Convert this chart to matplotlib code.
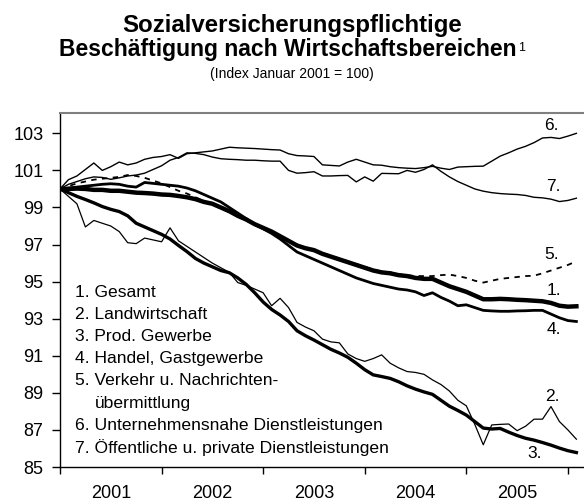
"""Sozialversicherungspflichtige Beschaeftigung nach Wirtschaftsbereichen.

Index Januar 2001 = 100, monthly values Jan 2001 .. Feb 2006.
"""
import matplotlib

matplotlib.use("Agg")
import matplotlib.pyplot as plt
import numpy as np

plt.rcParams["font.family"] = ["Liberation Sans", "DejaVu Sans"]

years = ["2001", "2002", "2003", "2004", "2005"]

gesamt = [
    100.0, 100.0, 100.02, 100.0, 99.95, 99.95, 99.9, 99.9, 99.85, 99.8,
    99.78, 99.75, 99.7, 99.68, 99.62, 99.55, 99.45, 99.3, 99.2, 99.0,
    98.8, 98.55, 98.35, 98.1, 97.9, 97.7, 97.45, 97.2, 96.95, 96.8,
    96.7, 96.5, 96.35, 96.2, 96.05, 95.9, 95.75, 95.6, 95.5, 95.45,
    95.35, 95.3, 95.2, 95.15, 95.15, 94.95, 94.75, 94.6, 94.45, 94.25,
    94.05, 94.05, 94.07, 94.05, 94.02, 94.0, 93.97, 93.94, 93.85, 93.7,
    93.65, 93.67,
]
landwirtschaft = [
    100.0, 99.6, 99.2, 97.95, 98.3, 98.15, 98.0, 97.7, 97.1, 97.05,
    97.35, 97.25, 97.15, 97.9, 97.2, 96.9, 96.6, 96.3, 96.0, 95.75,
    95.5, 94.95, 94.8, 94.6, 94.4, 93.7, 94.1, 93.6, 92.8, 92.55,
    92.35, 91.9, 91.75, 91.7, 91.1, 90.85, 90.7, 90.85, 91.05, 90.6,
    90.35, 90.15, 90.1, 90.0, 89.7, 89.45, 89.1, 88.6, 88.3, 87.3,
    86.2, 87.27, 87.3, 87.32, 86.96, 87.2, 87.58, 87.58, 88.26, 87.45,
    87.0, 86.5,
]
prod_gewerbe = [
    100.0, 99.8, 99.6, 99.43, 99.25, 99.05, 98.9, 98.78, 98.55, 98.15,
    97.95, 97.75, 97.55, 97.3, 96.95, 96.62, 96.25, 96.0, 95.8, 95.6,
    95.48, 95.2, 94.85, 94.4, 93.9, 93.5, 93.2, 92.85, 92.35, 92.08,
    91.85, 91.6, 91.35, 91.15, 90.92, 90.6, 90.25, 89.97, 89.88, 89.78,
    89.6, 89.38, 89.2, 89.05, 88.92, 88.6, 88.28, 88.05, 87.8, 87.45,
    87.1, 87.05, 87.08, 86.88, 86.7, 86.55, 86.45, 86.32, 86.18, 86.02,
    85.88, 85.78,
]
handel = [
    100.0, 100.05, 100.1, 100.15, 100.2, 100.25, 100.28, 100.25, 100.15, 100.1,
    100.35, 100.3, 100.25, 100.2, 100.15, 100.05, 99.9, 99.7, 99.5, 99.3,
    99.0, 98.7, 98.4, 98.1, 97.85, 97.6, 97.3, 96.95, 96.6, 96.4,
    96.2, 96.0, 95.8, 95.6, 95.4, 95.2, 95.05, 94.9, 94.8, 94.7,
    94.6, 94.55, 94.45, 94.25, 94.4, 94.15, 93.95, 93.7, 93.75, 93.6,
    93.45, 93.42, 93.4, 93.4, 93.42, 93.43, 93.45, 93.45, 93.25, 93.05,
    92.9, 92.85,
]
verkehr = [
    100.0, 100.15, 100.3, 100.4, 100.5, 100.55, 100.6, 100.65, 100.75, 100.7,
    100.6, 100.45, 100.3, 100.1, 99.9, 99.75, 99.55, 99.35, 99.15, 98.95,
    98.75, 98.55, 98.3, 98.05, 97.85, 97.65, 97.45, 97.2, 97.0, 96.85,
    96.72, 96.55, 96.4, 96.25, 96.1, 95.95, 95.8, 95.65, 95.55, 95.5,
    95.4, 95.35, 95.3, 95.3, 95.3, 95.35, 95.38, 95.3, 95.2, 95.05,
    94.95, 95.05, 95.15, 95.2, 95.25, 95.3, 95.32, 95.45, 95.6, 95.75,
    95.9, 96.1,
]
unternehmensnahe = [
    100.0, 100.5, 100.7, 101.05, 101.4, 101.0, 101.2, 101.45, 101.3, 101.4,
    101.6, 101.7, 101.75, 101.85, 101.65, 101.9, 101.95, 102.0, 102.05, 102.15,
    102.25, 102.22, 102.2, 102.18, 102.15, 102.12, 102.1, 101.9, 101.8, 101.78,
    101.75, 101.3, 101.27, 101.24, 101.45, 101.6, 101.45, 101.3, 101.28, 101.2,
    101.15, 101.12, 101.1, 101.15, 101.22, 101.12, 101.05, 101.18, 101.2, 101.22,
    101.23, 101.5, 101.77, 101.95, 102.15, 102.3, 102.5, 102.75, 102.78, 102.72,
    102.85, 103.0,
]
oeffentliche = [
    100.0, 100.25, 100.4, 100.55, 100.65, 100.62, 100.52, 100.6, 100.7, 100.75,
    100.85, 101.05, 101.25, 101.55, 101.7, 101.95, 101.92, 101.85, 101.72, 101.63,
    101.6, 101.58, 101.55, 101.55, 101.52, 101.5, 101.5, 101.0, 100.85, 100.88,
    100.93, 100.7, 100.7, 100.72, 100.73, 100.38, 100.65, 100.42, 100.84, 100.83,
    100.82, 101.0, 100.9, 101.05, 101.3, 100.95, 100.65, 100.4, 100.2, 100.0,
    99.88, 99.8, 99.75, 99.72, 99.7, 99.65, 99.55, 99.52, 99.45, 99.32,
    99.38, 99.5,
]

legend_lines = [
    "1. Gesamt",
    "2. Landwirtschaft",
    "3. Prod. Gewerbe",
    "4. Handel, Gastgewerbe",
    "5. Verkehr u. Nachrichten-",
    "übermittlung",
    "6. Unternehmensnahe Dienstleistungen",
    "7. Öffentliche u. private Dienstleistungen",
]

months = np.arange(len(gesamt))

fig = plt.figure(figsize=(5.84, 5.04), dpi=100)
ax = fig.add_axes([0.1027, 0.0734, 0.8973, 0.7025])

ax.plot(months, landwirtschaft, color="black", lw=0.9)
ax.plot(months, unternehmensnahe, color="black", lw=1.0)
ax.plot(months, oeffentliche, color="black", lw=1.0)
ax.plot(months, verkehr, color="black", lw=1.3, dashes=(3, 3))
ax.plot(months, prod_gewerbe, color="black", lw=2.4)
ax.plot(months, handel, color="black", lw=2.0)
ax.plot(months, gesamt, color="black", lw=3.2)

# end-of-line labels
ends = [
    ("6.", 58.1, 103.4), ("7.", 58.3, 100.15), ("5.", 58.1, 96.45),
    ("1.", 58.4, 94.5), ("4.", 58.4, 92.4), ("2.", 58.2, 88.8),
    ("3.", 56.1, 85.75),
]
for lab, xm, yv in ends:
    ax.text(xm, yv, lab, fontsize=12.5, ha="center", va="center")

for i, line in enumerate(legend_lines):
    x0 = 4.15 if line == "übermittlung" else 1.75
    ax.text(x0, 94.4 - i * 1.19, line, fontsize=12.6, ha="left", va="center")

ax.set_xlim(0, 61.9)
ax.set_ylim(85, 104.1)
ax.set_yticks(np.arange(85, 104, 2))
ax.set_xticks(np.arange(0, 61, 12))
ax.set_xticklabels([])
ax.set_xticks(np.arange(6, 61, 12), minor=True)
ax.set_xticklabels(years, minor=True)
ax.tick_params(axis="x", which="major", length=5, width=1, direction="out")
ax.tick_params(axis="x", which="minor", length=0, pad=13, labelsize=13)
ax.tick_params(axis="y", length=6, width=1, direction="out", pad=6,
               labelsize=13)

ax.spines["right"].set_visible(False)
ax.spines["top"].set_color("#808080")
ax.spines["top"].set_linewidth(1.5)
ax.spines["left"].set_linewidth(1.0)
ax.spines["bottom"].set_linewidth(1.0)

fig.text(0.5, 0.949, "Sozialversicherungspflichtige", ha="center",
         va="center", fontsize=17.3, fontweight="bold")
t2 = fig.text(0.493, 0.901, "Beschäftigung nach Wirtschaftsbereichen",
              ha="center", va="center", fontsize=16.5, fontweight="bold")
renderer = fig.canvas.get_renderer()
bb = t2.get_window_extent(renderer).transformed(fig.transFigure.inverted())
fig.text(bb.x1 + 0.003, bb.y1 - 0.008, "1", ha="left", va="top", fontsize=9)
fig.text(0.5, 0.853, "(Index Januar 2001 = 100)", ha="center", va="center",
         fontsize=10)

fig.savefig("out.png", dpi=100)
